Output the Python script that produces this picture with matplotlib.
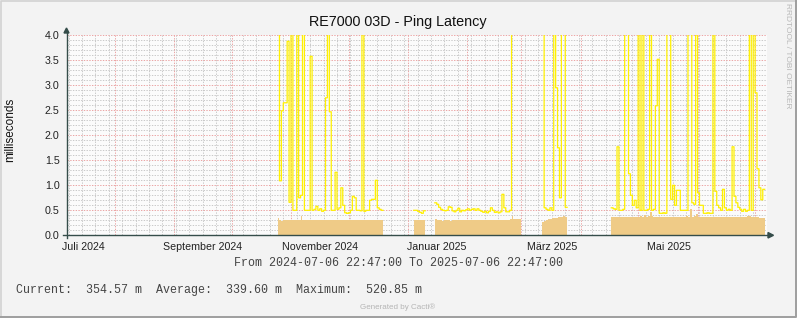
import matplotlib
matplotlib.use("Agg")
import matplotlib.pyplot as plt
import pandas as pd
from matplotlib.lines import Line2D
from matplotlib.patches import Polygon

plt.rcParams["font.family"] = ["Liberation Sans", "DejaVu Sans"]

W, H = 797, 318

range_start = pd.Timestamp("2024-07-06 22:47")
range_end = pd.Timestamp("2025-07-06 22:47")

# daily consolidated values (ms) for each stretch of data; gaps are NaN / missing
seg_a_start = "2024-10-25"
seg_a_max = [5.0, 1.09, 2.49, 2.65, 2.65, 3.88, 0.66, 6.0, 0.5, 0.5,
             6.0, 0.75, 0.8, 6.0, 0.5, 0.5, 0.5, 3.58, 0.5, 0.52,
             0.58, 0.5, 0.53, 0.48, 0.5, 2.75, 6.0, 2.47, 0.5, 0.5,
             1.26, 0.52, 0.55, 0.95, 0.6, 0.45, 0.44, 0.45, 0.5, 0.78,
             0.75, 0.5, 0.5, 0.49, 6.0, 0.48, 0.5, 0.5, 0.7, 0.72,
             0.72, 1.1, 0.55, 0.52, 0.5]
seg_a_avg = [0.35, 0.31, 0.29, 0.30, 0.31, 0.30, 0.31, 0.31, 0.30, 0.31,
             0.30, 0.31, 0.38, 0.31, 0.30, 0.30, 0.31, 0.30, 0.30, 0.31,
             0.30, 0.30, 0.31, 0.30, 0.30, 0.31, 0.30, 0.30, 0.31, 0.30,
             0.30, 0.30, 0.31, 0.30, 0.31, 0.30, 0.30, 0.30, 0.31, 0.30,
             0.30, 0.30, 0.31, 0.30, 0.30, 0.30, 0.31, 0.30, 0.30, 0.30,
             0.30, 0.30, 0.30, 0.30, 0.30]

seg_b_start = "2025-01-04"
seg_b_max = [0.5, 0.5, 0.48, 0.46, 0.44, 0.49]
seg_b_avg = [0.30, 0.30, 0.30, 0.30, 0.30, 0.30]

seg_c_start = "2025-01-15"
seg_c_max = [0.65, 0.62, 0.56, 0.52, 0.5, 0.49, 0.5, 0.57, 0.56, 0.49,
             0.47, 0.5, 0.54, 0.47, 0.5, 0.49, 0.51, 0.53, 0.5, 0.52,
             0.53, 0.5, 0.53, 0.5, 0.48, 0.46, 0.48, 0.45, 0.48, 0.55,
             0.5, 0.46, 0.47, 0.45, 0.47, 0.82, 0.55, 0.47, 0.47, 0.5,
             6.0, 6.0, 6.0, 6.0, 6.0]
seg_c_avg = [0.32, 0.30, 0.30, 0.30, 0.29, 0.30, 0.30, 0.30, 0.29, 0.30,
             0.30, 0.30, 0.30, 0.30, 0.30, 0.31, 0.30, 0.31, 0.31, 0.31,
             0.31, 0.31, 0.31, 0.31, 0.31, 0.30, 0.31, 0.31, 0.31, 0.31,
             0.31, 0.31, 0.31, 0.31, 0.31, 0.31, 0.31, 0.31, 0.31, 0.32,
             0.38, 0.33, 0.32, 0.32, 0.32]

seg_d_start = "2025-03-12"
seg_d_max = [6.0, 0.55, 0.52, 0.5, 0.55, 0.5, 6.0, 2.95, 1.75, 0.75, 6.0, 6.0, 0.56]
seg_d_avg = [0.27, 0.29, 0.31, 0.33, 0.33, 0.34, 0.35, 0.35, 0.36, 0.37, 0.37, 0.38, 0.37]

seg_e_start = "2025-04-17"
seg_e_max = [0.55, 0.53, 0.52, 1.77, 0.5, 0.5, 0.52, 6.0, 6.0, 1.23,
             0.8, 0.6, 0.7, 0.55, 6.0, 0.5, 6.0, 0.5, 0.5, 0.52,
             6.0, 0.5, 0.52, 2.59, 3.52, 0.44, 0.44, 0.45, 0.44, 6.0,
             6.0, 0.72, 1.0, 0.6, 0.9, 0.9, 0.5, 0.5, 0.5, 0.5,
             6.0, 6.0, 0.65, 0.62, 6.0, 0.85, 0.6, 0.6, 0.44, 0.44,
             0.45, 0.44, 0.44, 6.0, 0.88, 0.6, 0.55, 0.5, 0.92, 0.55,
             0.5, 0.52, 0.5, 1.77, 0.78, 0.65, 0.56, 0.52, 0.48, 0.52,
             0.48, 0.5, 6.0, 0.5, 6.0, 2.85, 1.33, 0.95, 0.71, 0.92]
seg_e_avg = [0.37, 0.37, 0.36, 0.36, 0.36, 0.37, 0.36, 0.36, 0.37, 0.36,
             0.36, 0.36, 0.37, 0.37, 0.37, 0.38, 0.37, 0.40, 0.37, 0.38,
             0.47, 0.38, 0.37, 0.37, 0.37, 0.37, 0.37, 0.36, 0.37, 0.37,
             0.37, 0.37, 0.37, 0.37, 0.36, 0.37, 0.37, 0.37, 0.37, 0.38,
             0.37, 0.52, 0.37, 0.38, 0.42, 0.37, 0.36, 0.36, 0.36, 0.36,
             0.36, 0.36, 0.36, 0.36, 0.36, 0.36, 0.36, 0.36, 0.36, 0.36,
             0.36, 0.36, 0.37, 0.37, 0.37, 0.37, 0.37, 0.37, 0.37, 0.37,
             0.37, 0.38, 0.38, 0.37, 0.37, 0.36, 0.36, 0.35, 0.35, 0.355]

segments = [
    (seg_a_start, seg_a_max, seg_a_avg),
    (seg_b_start, seg_b_max, seg_b_avg),
    (seg_c_start, seg_c_max, seg_c_avg),
    (seg_d_start, seg_d_max, seg_d_avg),
    (seg_e_start, seg_e_max, seg_e_avg),
]

month_labels = ["Juli 2024", "September 2024", "November 2024",
                "Januar 2025", "März 2025", "Mai 2025"]
month_label_dates = ["2024-07-16", "2024-09-16", "2024-11-16",
                     "2025-01-16", "2025-03-17", "2025-05-17"]
y_ticks = [0.0, 0.5, 1.0, 1.5, 2.0, 2.5, 3.0, 3.5, 4.0]

title = "RE7000 03D - Ping Latency"
range_text = "From 2024-07-06 22:47:00 To 2025-07-06 22:47:00"
stats_text = "Current:  354.57 m  Average:  339.60 m  Maximum:  520.85 m"

AREA_COLOR = "#EFCB87"
LINE_COLOR = "#FFF000"
AXIS_COLOR = "#354D4A"
MAJOR_GRID = "#EBA4A4"
MINOR_GRID = "#C9C9C9"


def px(x, y):
    return x / W, 1 - y / H


fig = plt.figure(figsize=(W / 100, H / 100), dpi=100, facecolor="#F3F3F3")
ax = fig.add_axes([66.5 / W, (H - 235.3) / H, 700 / W, 200 / H])
ax.set_facecolor("#FBFBFB")
ax.set_xlim(range_start, range_end)
ax.set_ylim(0, 4.0)
for s in ax.spines.values():
    s.set_visible(False)

# grid: weeks (minor) / months (major), 0.1 (minor) / 0.5 (major)
dash = (0, (1.4, 1.4))
months = pd.date_range("2024-08-01", "2025-07-01", freq="MS")
weeks = pd.date_range("2024-07-08", range_end, freq="7D")
for d in weeks:
    if d not in months:
        ax.axvline(d, color=MINOR_GRID, lw=0.7, ls=dash, zorder=0)
for d in months:
    ax.axvline(d, color=MAJOR_GRID, lw=0.7, ls=dash, zorder=0.5)
for i in range(1, 41):
    v = i / 10
    if i % 5:
        ax.axhline(v, color=MINOR_GRID, lw=0.7, ls=dash, zorder=0)
    else:
        ax.axhline(v, color=MAJOR_GRID, lw=0.7, ls=dash, zorder=0.5)

for start, vmax, vavg in segments:
    n = len(vmax)
    t = pd.date_range(start, periods=n + 1, freq="D")
    ax.fill_between(t, list(vavg) + [vavg[-1]], step="post",
                    color=AREA_COLOR, lw=0, zorder=2)
    ax.plot(t, list(vmax) + [vmax[-1]], drawstyle="steps-post",
            color=LINE_COLOR, lw=0.9, snap=False, zorder=3)

ax.set_yticks(y_ticks)
ax.set_yticklabels([f"{v:.1f}" for v in y_ticks])
ax.set_xticks(pd.to_datetime(month_label_dates))
ax.set_xticklabels(month_labels)
ax.tick_params(axis="both", length=0, labelsize=7.7, colors="#222222")
ax.tick_params(axis="y", pad=5)
ax.tick_params(axis="x", pad=4.5)

# axes with arrow heads, rrdtool style
fig.add_artist(Line2D(*zip(px(66.5, 238), px(66.5, 31)), color=AXIS_COLOR, lw=1))
fig.add_artist(Polygon([px(64, 33), px(69, 33), px(66.5, 28)], closed=True,
                       transform=fig.transFigure, color=AXIS_COLOR))
fig.add_artist(Line2D(*zip(px(63, 235.3), px(770, 235.3)), color=AXIS_COLOR, lw=1))
fig.add_artist(Polygon([px(768, 232.5), px(768, 238), px(773.5, 235.3)], closed=True,
                       transform=fig.transFigure, color=AXIS_COLOR))

fig.text(*px(398, 22), title, ha="center", va="center", fontsize=10.4, color="#111111")
fig.text(*px(10, 130), "milliseconds", ha="center", va="center", rotation=90,
         fontsize=8.5, color="#111111")
fig.text(*px(398, 263), range_text, ha="center", va="center",
         family="Liberation Mono", fontsize=8.4, color="#444444")
fig.text(*px(16, 290), stats_text, ha="left", va="center",
         family="Liberation Mono", fontsize=8.4, color="#444444")
fig.text(*px(398, 307), "Generated by Cacti®", ha="center", va="center",
         fontsize=5.8, color="#B5B5B5")
fig.text(*px(787, 56), "RRDTOOL / TOBI OETIKER", ha="center", va="center",
         rotation=270, fontsize=6, color="#B8B8B8")

# image frame
fig.add_artist(Line2D([0.5 / W, 0.5 / W, 1 - 0.5 / W], [0, 1 - 0.5 / H, 1 - 0.5 / H],
                      color="#D2D2D2", lw=1.2))
fig.add_artist(Line2D([0.5 / W, 1 - 1 / W, 1 - 1 / W], [1 / H, 1 / H, 1 - 0.5 / H],
                      color="#9E9E9E", lw=1.4))

fig.savefig("out.png", dpi=100, facecolor=fig.get_facecolor())
